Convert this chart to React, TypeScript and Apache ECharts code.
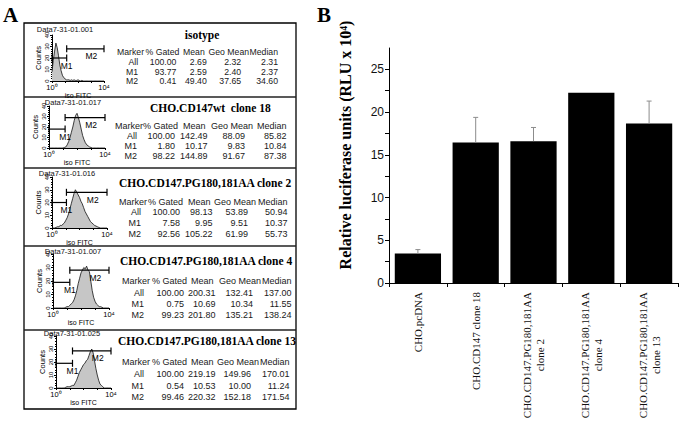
import React, { useEffect, useRef } from 'react';
import * as echarts from 'echarts';

// ---------- Panel B data ----------
const barCategories = [
  'CHO.pcDNA',
  'CHO.CD147 clone 18',
  'CHO.CD147.PG180,181AA\nclone 2',
  'CHO.CD147.PG180,181AA\nclone 4',
  'CHO.CD147.PG180,181AA\nclone 13',
];
const barValues = [3.44, 16.45, 16.6, 22.27, 18.67];
const barErrors = [0.47, 2.93, 1.6, 0, 2.62];
const yLabelValues = [0, 5, 10, 15, 20, 25];
const yTickValues = [0, 2.5, 5, 7.5, 10, 12.5, 15, 17.5, 20, 22.5, 25];

// ---------- Panel A data ----------
const rowTitles = [
  'isotype',
  'CHO.CD147wt  clone 18',
  'CHO.CD147.PG180,181AA clone 2',
  'CHO.CD147.PG180,181AA clone 4',
  'CHO.CD147.PG180,181AA clone 13',
];
const fileNames = ['Data7-31-01.001', 'Data7-31-01.017', 'Data7-31-01.016', 'Data7-31-01.007', 'Data7-31-01.025'];
const tableHeaders = ['Marker', '% Gated', 'Mean', 'Geo Mean', 'Median'];
const markerNames = ['All', 'M1', 'M2'];
const gatedPct = [[100, 93.77, 0.41], [100, 1.8, 98.22], [100, 7.58, 92.56], [100, 0.75, 99.23], [100, 0.54, 99.46]];
const meanVals = [[2.69, 2.59, 49.4], [142.49, 10.17, 144.89], [98.13, 9.95, 105.22], [200.31, 10.69, 201.8], [219.19, 10.53, 220.32]];
const geoMeanVals = [[2.32, 2.4, 37.65], [88.09, 9.83, 91.67], [53.89, 9.51, 61.99], [132.41, 10.34, 135.21], [149.96, 10.0, 152.18]];
const medianVals = [[2.31, 2.37, 34.6], [85.82, 10.84, 87.38], [50.94, 10.37, 55.73], [137.0, 11.55, 138.24], [170.01, 11.24, 171.54]];

// histogram bin centres, log10(FITC) from 0 to 4
const histBins = Array.from({ length: 41 }, (_, k) => k / 10);
const histIsotype = [8, 18, 26, 33, 29, 22, 14, 9, 5, 3, 2, 1, 1, 1, 0.5, 1, 0.5, 1, 0.5, 0.5, 1, 0.5, 0, 0.5, 0, 0, 0, 0, 0, 0, 0, 0, 0, 0, 0, 0, 0, 0, 0, 0, 0];
const histClone18 = [0, 0, 0, 0, 0, 0, 0, 0, 0, 0, 0, 0.5, 1, 3, 6, 10, 15, 20, 26, 31, 33, 29, 24, 18, 12, 8, 5, 3, 2, 1, 0.5, 0, 0, 0, 0, 0, 0, 0, 0, 0, 0];
const histClone2 = [0, 0, 0, 0.5, 1, 1, 2, 2, 3, 4, 6, 8, 11, 15, 19, 23, 27, 30, 28, 26, 24, 21, 19, 16, 13, 11, 9, 7, 5, 4, 3, 2, 1.5, 1, 0.5, 0, 0, 0, 0, 0, 0];
const histClone4 = [0, 0, 0, 0, 0, 0, 0, 0, 0, 0.5, 1, 1, 2, 3, 4, 6, 9, 13, 18, 22, 26, 28, 30, 29, 31, 28, 27, 20, 13, 8, 5, 3, 2, 1, 1, 0.5, 0, 0, 0, 0, 0];
const histClone13 = [0, 0, 0, 0, 0, 0, 0, 0.5, 1, 1, 1, 1.5, 2, 2, 4, 6, 9, 12, 14, 16, 18, 19, 21, 22, 25, 28, 30, 27, 21, 15, 10, 6, 3, 2, 1, 0, 0, 0, 0, 0, 0];
const histograms = [histIsotype, histClone18, histClone2, histClone4, histClone13];
// gate markers: [from log, to log, height in counts, name]
const gateMarkers: [number, number, number, string][][] = [
  [[0, 1.13, 20, 'M1'], [1.13, 4, 28, 'M2']],
  [[0, 1.15, 18, 'M1'], [1.15, 4, 29, 'M2']],
  [[0, 1.05, 20, 'M1'], [1.05, 4, 28, 'M2']],
  [[0, 1.2, 19, 'M1'], [1.2, 4, 28, 'M2']],
  [[0, 1.2, 19, 'M1'], [1.2, 4, 28.5, 'M2']],
];

// ---------- layout (positions only) ----------
const histLayout = [
  { l: 52, r: 104, t: 35, b: 81 },
  { l: 49, r: 105, t: 106, b: 148 },
  { l: 52, r: 107, t: 177, b: 228 },
  { l: 53, r: 109, t: 254, b: 308 },
  { l: 56, r: 111, t: 336, b: 388 },
];
// Arial widths (em) of the header words
const headerEm = [3.111, 3.891, 2.501, 4.669, 3.279];
const valueOffsets = [-6, -3, 2, -8, 0];
const rowLayout = [
  { tx: 202, ty: 35, ta: 'center', fx: 65, fy: 29, fs: 8.7, hy: 52, ry: [62, 71.5, 81], hx: [117, 145.6, 183, 208.5, 249.5] },
  { tx: 150, ty: 108, ta: 'left', fx: 73, fy: 102.5, fs: 9, hy: 126, ry: [136, 146, 156], hx: [115, 143, 183, 211, 257] },
  { tx: 119, ty: 183, ta: 'left', fx: 67, fy: 173, fs: 9, hy: 202, ry: [212, 223, 234], hx: [119, 148, 188, 214, 258] },
  { tx: 120, ty: 261, ta: 'left', fx: 73, fy: 251, fs: 9, hy: 281, ry: [293, 304, 315], hx: [122, 152, 191, 219, 262] },
  { tx: 118, ty: 341, ta: 'left', fx: 72, fy: 333, fs: 9, hy: 362, ry: [374, 386, 397], hx: [122, 152, 191, 217, 260] },
];
const dividers = [97, 168, 246, 330];

const SERIF = "'Liberation Serif', 'Times New Roman', serif";
const SANS = "'Liberation Sans', Arial, sans-serif";

function buildOption() {
  const grids: any[] = [];
  const xAxes: any[] = [];
  const yAxes: any[] = [];
  const series: any[] = [];
  const graphics: any[] = [];

  histLayout.forEach((g, i) => {
    grids.push({ left: g.l, top: g.t, width: g.r - g.l, height: g.b - g.t });
    xAxes.push({
      gridIndex: i, type: 'value', min: 0, max: 4, interval: 1,
      axisLine: { lineStyle: { color: '#000', width: 1 } },
      axisTick: { length: 2, lineStyle: { color: '#000' } },
      splitLine: { show: false },
      axisLabel: {
        fontSize: 7.5, margin: 2, color: '#000', fontFamily: SANS,
        formatter: (v: number) => (v === 0 ? '10⁰' : v === 4 ? '10⁴' : ''),
      },
      name: 'iso FITC', nameLocation: 'middle', nameGap: 10,
      nameTextStyle: { fontSize: 7, fontFamily: SANS, color: '#000' },
    });
    yAxes.push({
      gridIndex: i, type: 'value', min: 0, max: 40, interval: 10,
      axisLine: { show: true, lineStyle: { color: '#000', width: 1 } },
      axisTick: { show: true, length: 2, lineStyle: { color: '#000' } },
      minorTick: { show: true, splitNumber: 5, length: 1, lineStyle: { color: '#000' } },
      splitLine: { show: false },
      axisLabel: { rotate: 90, fontSize: 6, margin: 2, color: '#000', fontFamily: SANS },
      name: 'Counts', nameLocation: 'middle', nameGap: 10, nameRotate: 90,
      nameTextStyle: { fontSize: 7.5, fontFamily: SANS, color: '#000' },
    });
    series.push({
      type: 'line', xAxisIndex: i, yAxisIndex: i, symbol: 'none', silent: true,
      data: histograms[i].map((c, k) => [histBins[k], c]),
      lineStyle: { color: '#111', width: 0.8 },
      areaStyle: { color: '#c6c6c6', opacity: 1 },
      z: 2,
    });
    const marks = gateMarkers[i];
    series.push({
      type: 'custom', xAxisIndex: i, yAxisIndex: i, silent: true,
      data: marks.map((m) => [m[0], m[1], m[2]]),
      encode: { x: [0, 1], y: 2 },
      renderItem: (params: any, api: any) => {
        const m = marks[params.dataIndex];
        const a = api.coord([m[0], m[2]]);
        const b = api.coord([m[1], m[2]]);
        const tx = m[3] === 'M1' ? b[0] : (a[0] + b[0]) / 2 + 6;
        const st = { stroke: '#000', lineWidth: 1.2 };
        return {
          type: 'group',
          children: [
            { type: 'line', shape: { x1: a[0], y1: a[1], x2: b[0], y2: b[1] }, style: st },
            { type: 'line', shape: { x1: a[0], y1: a[1] - 3.5, x2: a[0], y2: a[1] + 3.5 }, style: st },
            { type: 'line', shape: { x1: b[0], y1: b[1] - 3.5, x2: b[0], y2: b[1] + 3.5 }, style: st },
            {
              type: 'text',
              style: { text: m[3], x: tx, y: a[1] + 7.5, textAlign: 'center', textVerticalAlign: 'middle', fontSize: 8.5, fontFamily: SANS, fill: '#000' },
            },
          ],
        };
      },
      z: 4,
    });
  });

  // Panel B
  grids.push({ left: 389, top: 48, right: 4, bottom: 142 });
  xAxes.push({
    gridIndex: 5, type: 'category', data: barCategories,
    axisLine: { lineStyle: { color: '#000', width: 1 } },
    axisTick: { show: true, length: 4, lineStyle: { color: '#000' } },
    axisLabel: {
      interval: 0, rotate: 90, margin: 9, color: '#111',
      fontFamily: SERIF, fontSize: 11,
      formatter: (v: string) => v.split('\n').map((s) => `{c|${s}}`).join('\n'),
      rich: { c: { align: 'center', fontFamily: SERIF, fontSize: 11, lineHeight: 13, color: '#111' } },
    },
  });
  yAxes.push({
    gridIndex: 5, type: 'value', min: 0, max: 27.5,
    axisLine: { show: true, lineStyle: { color: '#000', width: 1 } },
    axisTick: { show: true, length: 4, customValues: yTickValues, lineStyle: { color: '#000' } },
    axisLabel: { customValues: yLabelValues, fontSize: 12, margin: 5, color: '#111', fontFamily: SANS },
    splitLine: { show: false },
  });
  series.push({
    type: 'bar', xAxisIndex: 5, yAxisIndex: 5, data: barValues,
    barCategoryGap: '20%', itemStyle: { color: '#000' }, silent: true, z: 2,
  });
  series.push({
    type: 'custom', xAxisIndex: 5, yAxisIndex: 5, silent: true, z: 3,
    data: barValues.map((v, i) => [i, v, v + barErrors[i]]),
    encode: { x: 0, y: [1, 2] },
    renderItem: (params: any, api: any) => {
      const idx = api.value(0);
      const lo = api.coord([idx, api.value(1)]);
      const hi = api.coord([idx, api.value(2)]);
      if (api.value(2) <= api.value(1)) return { type: 'group', children: [] };
      const st = { stroke: '#8c8c8c', lineWidth: 1 };
      return {
        type: 'group',
        children: [
          { type: 'line', shape: { x1: lo[0], y1: lo[1], x2: hi[0], y2: hi[1] }, style: st },
          { type: 'line', shape: { x1: hi[0] - 2.5, y1: hi[1], x2: hi[0] + 2.5, y2: hi[1] }, style: st },
        ],
      };
    },
  });

  // Graphic texts / frame
  graphics.push({ type: 'text', left: 3, top: 4, style: { text: 'A', fontFamily: SERIF, fontWeight: 'bold', fontSize: 21, fill: '#000' } });
  graphics.push({ type: 'text', left: 317, top: 4, style: { text: 'B', fontFamily: SERIF, fontWeight: 'bold', fontSize: 21, fill: '#000' } });
  graphics.push({
    type: 'text', x: 345, y: 145, rotation: Math.PI / 2,
    style: { text: 'Relative luciferase units (RLU x 10⁴)', fontFamily: SERIF, fontWeight: 'bold', fontSize: 16, fill: '#000', textAlign: 'center', textVerticalAlign: 'middle' },
  });
  graphics.push({ type: 'rect', shape: { x: 24, y: 23, width: 272, height: 386 }, style: { fill: 'none', stroke: '#000', lineWidth: 1.3 } });
  dividers.forEach((y) => {
    graphics.push({ type: 'line', shape: { x1: 24, y1: y, x2: 296, y2: y }, style: { stroke: '#222', lineWidth: 1.6 } });
  });
  rowLayout.forEach((r, i) => {
    graphics.push({ type: 'text', x: r.tx, y: r.ty, style: { text: rowTitles[i], fontFamily: SERIF, fontWeight: 'bold', fontSize: 11.5, fill: '#000', textAlign: r.ta, textVerticalAlign: 'middle' } });
    graphics.push({ type: 'text', x: r.fx, y: r.fy, style: { text: fileNames[i], fontFamily: SANS, fontSize: 7.5, fill: '#111', textAlign: 'center', textVerticalAlign: 'middle' } });
    const hEnd = r.hx.map((x, k) => x + headerEm[k] * r.fs);
    tableHeaders.forEach((h, k) => {
      graphics.push({ type: 'text', x: r.hx[k], y: r.hy, style: { text: h, fontFamily: SANS, fontSize: r.fs, fill: '#1a1a1a', textAlign: 'left', textVerticalAlign: 'middle' } });
    });
    markerNames.forEach((mn, j) => {
      const cells = [mn, gatedPct[i][j].toFixed(2), meanVals[i][j].toFixed(2), geoMeanVals[i][j].toFixed(2), medianVals[i][j].toFixed(2)];
      cells.forEach((c, k) => {
        graphics.push({ type: 'text', x: hEnd[k] + valueOffsets[k], y: r.ry[j], style: { text: c, fontFamily: SANS, fontSize: r.fs, fill: '#1a1a1a', textAlign: 'right', textVerticalAlign: 'middle' } });
      });
    });
  });

  return {
    animation: false,
    backgroundColor: '#fff',
    grid: grids,
    xAxis: xAxes,
    yAxis: yAxes,
    series,
    graphic: graphics,
  };
}

export default function App() {
  const ref = useRef<HTMLDivElement>(null);
  useEffect(() => {
    if (!ref.current) return;
    const chart = echarts.init(ref.current, undefined, { renderer: 'svg' });
    chart.setOption(buildOption() as any);
    return () => chart.dispose();
  }, []);
  return <div ref={ref} style={{ position: 'fixed', left: 0, top: 0, width: 682, height: 425, background: '#fff' }} />;
}
